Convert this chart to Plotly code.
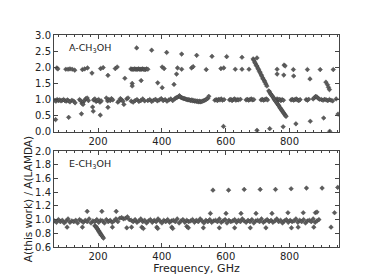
import plotly.graph_objects as go
from plotly.subplots import make_subplots

# ---------------- A-CH3OH (top panel) ----------------
a_row2_freq = [71, 74, 99, 106, 112, 119, 127, 151, 158, 167, 181, 208, 216, 231, 254, 260, 284,
               303, 306, 309, 312, 315, 318, 321, 324, 327, 330, 333, 336, 339, 342, 345, 348, 352, 356,
               307, 307, 335, 321, 368, 387, 401, 407, 401, 415, 438, 446, 449, 462, 462, 493, 498, 509,
               539, 557, 585, 594, 603, 630, 651, 651, 673, 698, 761, 761, 783, 786, 782, 812, 813, 856,
               864, 896, 914, 919, 922, 925, 937]
a_row2_ratio = [1.98, 1.95, 1.94, 1.94, 1.95, 1.94, 1.91, 1.93, 1.95, 1.98, 1.82, 1.96, 1.99, 1.75, 1.96, 2.01, 1.66,
                1.95, 1.94, 1.94, 1.94, 1.95, 1.94, 1.94, 1.94, 1.95, 1.94, 1.94, 1.94, 1.95, 1.94, 1.94, 1.93, 1.95, 1.94,
                1.50, 1.42, 1.59, 2.60, 2.53, 1.52, 2.01, 1.96, 1.37, 2.46, 1.47, 1.79, 1.98, 1.94, 2.41, 1.98, 2.02, 2.37,
                1.93, 2.34, 1.96, 1.98, 2.33, 1.94, 2.31, 1.94, 1.94, 2.29, 1.94, 1.79, 2.07, 2.04, 1.76, 1.93, 1.73, 1.93,
                1.64, 1.93, 1.54, 1.46, 1.38, 1.31, 1.93]

a_low_freq = [67, 108, 148, 185, 183, 207, 231, 153, 281, 593, 698, 738, 780, 820, 865, 907, 952, 926]
a_low_ratio = [0.38, 0.45, 0.56, 0.64, 0.77, 0.52, 0.76, 0.85, 0.85, 0.17, 0.05, 0.10, 0.16, 0.25, 0.33, 0.43, 0.55, 0.02]

a_diag_freq = [686, 688, 691, 693, 696, 698, 701, 703, 706, 708, 711, 713, 716, 718, 721, 723, 726, 729,
               735, 737, 740, 742, 745, 747, 750, 752, 755, 757, 760, 762, 765, 767, 770, 772, 775, 777,
               780, 782, 785, 787, 789]
a_diag_ratio = [2.26, 2.22, 2.16, 2.12, 2.06, 2.03, 1.97, 1.93, 1.87, 1.83, 1.77, 1.73, 1.67, 1.63, 1.58, 1.54, 1.48, 1.42,
                1.27, 1.24, 1.19, 1.16, 1.12, 1.09, 1.05, 1.02, 0.97, 0.94, 0.90, 0.87, 0.83, 0.80, 0.75, 0.72, 0.68, 0.65,
                0.61, 0.58, 0.54, 0.51, 0.48]

a_row1_freq = [65, 68, 72, 76, 80, 84, 88, 92, 96, 100, 104, 108, 112, 118, 124, 128,
               142, 146, 150, 154, 158, 162, 166, 170,
               186, 190, 194, 198, 202, 206, 210,
               226, 230, 234, 238, 242, 246,
               262, 266, 270, 274, 278, 290, 294,
               304, 310, 316, 322, 328, 334, 340, 346,
               356, 362, 368, 374, 380, 386, 392, 398, 404, 410, 416, 422, 428, 434,
               440, 444, 448, 452, 455, 458, 461, 464, 467, 470, 473, 476, 479, 482, 485, 488, 491, 494, 497,
               500, 503, 506, 509, 512, 515, 518, 521, 524, 528, 532, 536, 540, 544, 547,
               566, 570, 574, 578, 582, 586, 590, 595,
               612, 616, 620, 624, 628, 632, 636, 640, 646,
               664, 668, 672, 676, 680, 684, 688,
               711, 715, 719, 723, 727, 731,
               753, 757, 761, 765, 769, 773, 777, 781,
               805, 809, 813, 817, 821, 825, 829, 833,
               852, 856, 860,
               874, 878, 882, 886, 890, 894,
               900, 905, 910, 915, 920, 925, 930, 935,
               946]
a_row1_ratio = [0.98, 0.95, 1.00, 0.97, 0.99, 0.96, 0.98, 1.00, 0.97, 0.95, 0.99, 0.96, 0.93, 0.98, 0.95, 0.90,
                1.00, 0.96, 0.88, 0.93, 0.98, 1.03, 1.05, 0.97,
                0.99, 1.02, 0.94, 0.97, 1.00, 0.92, 0.96,
                1.05, 0.96, 1.00, 0.97, 1.03, 0.99,
                0.92, 0.96, 1.03, 0.99, 0.95, 1.02, 1.05,
                0.95, 0.92, 0.97, 1.00, 0.94, 0.97, 1.02, 0.96,
                0.97, 1.00, 0.94, 0.98, 1.01, 0.96, 0.99, 1.03, 0.97, 1.00, 0.95, 0.99, 1.02, 0.97,
                1.02, 1.05, 1.07, 1.09, 1.12, 1.08, 1.06, 1.05, 1.04, 1.03, 1.02, 1.01, 1.00, 0.99, 1.00, 0.98, 0.97, 0.99, 0.96,
                0.97, 0.95, 0.96, 0.94, 0.95, 0.93, 0.95, 0.93, 0.94, 0.95, 0.97, 0.99, 1.01, 1.04, 1.10,
                0.98, 1.00, 0.97, 1.01, 0.99, 1.02, 0.98, 1.00,
                0.99, 1.01, 0.97, 1.00, 1.02, 0.98, 1.00, 0.99, 1.01,
                0.99, 1.01, 0.98, 1.00, 1.02, 0.99, 1.00,
                0.99, 1.01, 0.98, 1.00, 1.02, 0.99,
                1.00, 0.98, 1.02, 0.99, 1.01, 0.97, 1.00, 0.98,
                0.99, 1.01, 0.98, 1.00, 1.02, 0.99, 0.97, 1.00,
                1.00, 0.98, 1.01,
                1.02, 1.06, 1.10, 1.08, 1.04, 1.01,
                1.00, 0.98, 1.01, 0.99, 0.97, 1.00, 0.98, 0.96,
                1.02]

# ---------------- E-CH3OH (bottom panel) ----------------
e_band_freq = [64 + 6 * i for i in range(149)]
e_band_ratio = [0.98, 0.96, 1.00, 0.97, 0.99, 0.95, 0.98, 1.01, 0.96, 0.98,
                0.97, 0.99, 0.95, 1.00, 0.98, 0.96, 0.99, 0.97, 1.01, 0.95,
                0.98, 0.97, 1.00, 0.96, 0.99, 0.98, 0.95, 1.00, 0.97, 0.99,
                0.96, 0.98, 1.01, 0.97, 1.02, 1.03, 1.01, 1.02, 1.04, 1.00,
                0.99, 0.97, 1.00, 0.96, 0.98, 1.01, 0.97, 0.99, 0.95, 0.98,
                1.00, 0.96, 0.99, 0.97, 1.01, 0.98, 0.95, 0.99, 0.97, 1.00,
                0.96, 0.98, 0.99, 0.97, 1.01, 0.95, 0.98, 1.00, 0.96, 0.99,
                0.97, 0.98, 1.00, 0.96, 0.99, 0.97, 1.01, 0.98, 0.95, 0.99,
                0.97, 1.00, 0.96, 0.98, 0.99, 0.97, 1.01, 0.96, 0.98, 1.00,
                0.95, 0.99, 0.97, 0.98, 1.00, 0.96, 0.99, 0.97, 1.01, 0.98,
                0.96, 0.99, 0.97, 1.00, 0.95, 0.98, 0.99, 0.97, 1.01, 0.96,
                0.98, 1.00, 0.97, 0.99, 0.96, 0.98, 1.01, 0.97, 0.99, 0.95,
                0.98, 1.00, 0.96, 0.99, 0.97, 0.98, 1.01, 0.96, 0.99, 0.97,
                1.00, 0.95, 0.98, 0.99, 0.97, 1.01, 0.96, 0.98, 1.00]

e_extra_freq = [166, 212, 257,
                103, 151, 245, 290, 305, 337, 342, 384, 387, 431, 434, 478, 483, 530, 580, 628, 677, 726, 806, 827, 876, 930,
                552, 601, 648, 695, 745, 795, 843, 881, 886, 941,
                560, 609, 658, 708, 756, 805, 853, 902, 951,
                190, 192, 195, 197, 199, 201, 203, 205, 207, 209, 211, 214, 217]
e_extra_ratio = [1.12, 1.12, 1.12,
                 0.89, 0.89, 0.89, 0.88, 0.89, 0.89, 0.87, 0.89, 0.87, 0.89, 0.87, 0.90, 0.88, 0.88, 0.88, 0.88, 0.88, 0.88, 0.88, 0.89, 0.89, 0.89,
                 1.09, 1.09, 1.09, 1.09, 1.09, 1.10, 1.10, 1.10, 1.11, 1.10,
                 1.43, 1.43, 1.44, 1.44, 1.44, 1.45, 1.46, 1.46, 1.47,
                 0.91, 0.90, 0.89, 0.87, 0.86, 0.84, 0.83, 0.81, 0.80, 0.78, 0.77, 0.75, 0.73]

x_range = [62, 955]

fig = make_subplots(rows=2, cols=1)

marker = dict(symbol="diamond", size=3.6, color="#5c5c5c", line=dict(color="#3a3a3a", width=0.4))

for fx, fy in [(a_row1_freq, a_row1_ratio), (a_row2_freq, a_row2_ratio),
               (a_low_freq, a_low_ratio), (a_diag_freq, a_diag_ratio)]:
    fig.add_trace(go.Scatter(x=fx, y=fy, mode="markers", marker=marker, showlegend=False,
                             hoverinfo="skip"), row=1, col=1)
for fx, fy in [(e_band_freq, e_band_ratio), (e_extra_freq, e_extra_ratio)]:
    fig.add_trace(go.Scatter(x=fx, y=fy, mode="markers", marker=marker, showlegend=False,
                             hoverinfo="skip"), row=2, col=1)

font_family = "DejaVu Sans"
axis_common = dict(showline=True, linecolor="#444444", linewidth=1, mirror="allticks",
                   ticks="inside", ticklen=4, tickcolor="#444444", showgrid=False, zeroline=False,
                   tickfont=dict(family=font_family, size=10, color="#222222"))

fig.update_xaxes(range=x_range, dtick=200, tick0=0,
                 minor=dict(dtick=25, tick0=0, ticks="inside", ticklen=2, tickcolor="#444444"),
                 **axis_common)
fig.update_xaxes(domain=[0, 1], row=1, col=1)
fig.update_xaxes(domain=[0, 1], row=2, col=1,
                 title=dict(text="Frequency, GHz", font=dict(family=font_family, size=11, color="#222222"),
                            standoff=2))
fig.update_yaxes(range=[0, 3.0], dtick=0.5, tick0=0, tickformat=".1f", domain=[0.543, 1.0],
                 row=1, col=1, **axis_common)
fig.update_yaxes(range=[0.6, 2.0], dtick=0.2, tick0=0.6, tickformat=".1f", domain=[0.0, 0.4525],
                 row=2, col=1,
                 title=dict(text="A(this work) / A(LAMDA)", font=dict(family=font_family, size=10.5, color="#222222"),
                            standoff=0),
                 **axis_common)

fig.add_annotation(text="A-CH<sub>3</sub>OH", xref="x domain", yref="y domain", x=0.045, y=0.86,
                   xanchor="left", yanchor="middle", showarrow=False,
                   font=dict(family=font_family, size=9.5, color="#222222"))
fig.add_annotation(text="E-CH<sub>3</sub>OH", xref="x2 domain", yref="y2 domain", x=0.045, y=0.86,
                   xanchor="left", yanchor="middle", showarrow=False,
                   font=dict(family=font_family, size=9.5, color="#222222"))

fig.update_layout(width=368, height=276, margin=dict(l=46, r=37, t=27, b=28),
                  plot_bgcolor="white", paper_bgcolor="white",
                  font=dict(family=font_family, size=10, color="#222222"))

fig.write_html("out.html")
